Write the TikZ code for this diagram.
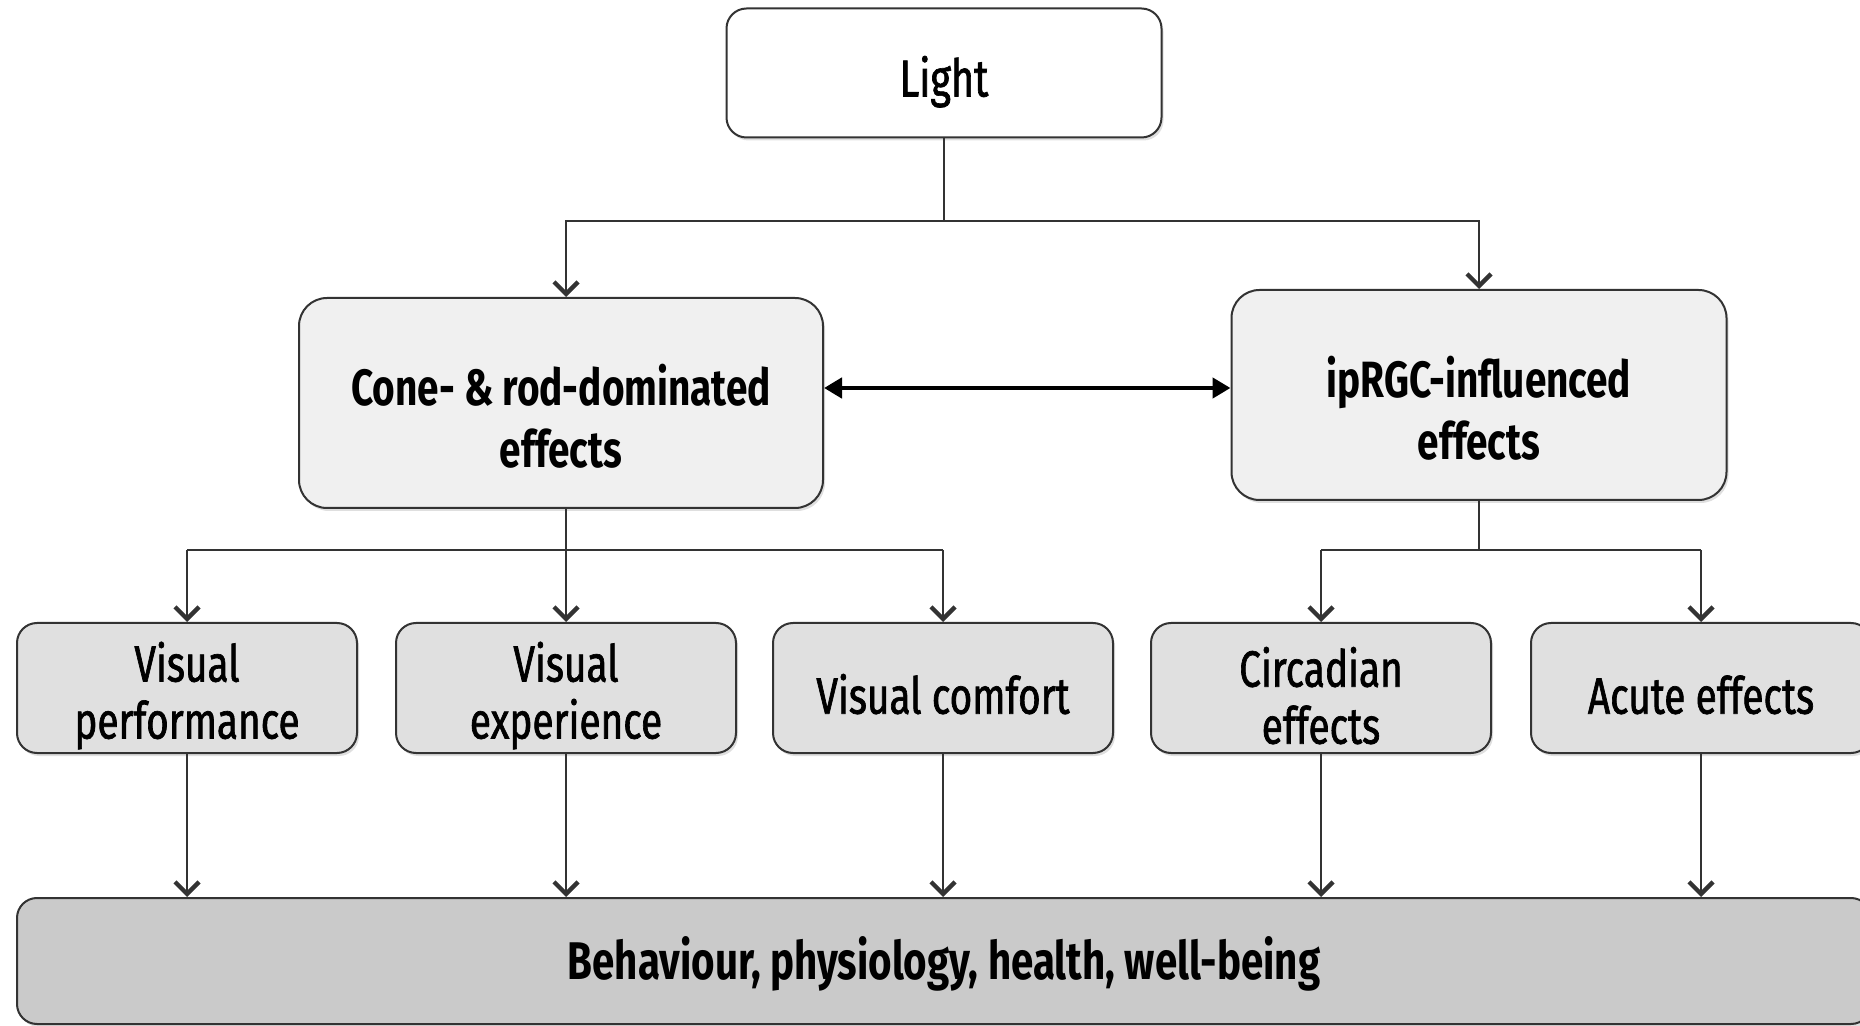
\documentclass[tikz,border=0pt]{standalone}
\usepackage{fontspec}
\setmainfont{Fira Sans}[FakeStretch=0.76]
\newfontfamily\medfont{Fira Sans}[FakeStretch=0.76, FakeBold=1.3]
\usetikzlibrary{positioning,calc,arrows.meta,shadows}
\definecolor{boxline}{HTML}{333333}
\definecolor{midfill}{HTML}{F0F0F0}
\definecolor{rowfill}{HTML}{E0E0E0}
\definecolor{basefill}{HTML}{CACACA}

\begin{document}
\begin{tikzpicture}[x=0.5pt,y=-0.5pt,
    box/.style={draw=boxline, line width=1pt, rounded corners=10pt, align=center,
        inner sep=0pt, drop shadow={shadow xshift=1pt, shadow yshift=-1.5pt, opacity=0.25}},
    topbox/.style={box, fill=white, minimum width=217.5pt, minimum height=64.5pt,
        text height=29pt, font=\fontsize{26}{28}\selectfont\medfont},
    midbox/.style={box, fill=midfill, minimum width=262pt, minimum height=105pt, rounded corners=14pt,
        text height=65pt, font=\fontsize{25.5}{31}\selectfont\bfseries},
    rowbox/.style={box, fill=rowfill, minimum width=170pt, minimum height=65pt,
        text height=56pt, font=\fontsize{25.5}{28.5}\selectfont\medfont},
    rowboxone/.style={rowbox, text height=26pt},
    basebox/.style={box, fill=basefill, minimum width=927pt, minimum height=63pt,
        text height=24pt, font=\fontsize{26.5}{28}\selectfont\bfseries},
    arr/.style={draw=boxline, line width=1.2pt, -{Straight Barb[length=6pt,width=12pt,line width=2.2pt]}},
    link/.style={draw=boxline, line width=1.2pt},
    dblarr/.style={draw=black, line width=2.4pt, {Triangle[length=9pt,width=10pt]}-{Triangle[length=9pt,width=10pt]}}]
    \useasboundingbox (0,0) rectangle (1860,1026);
    \clip (0,0) rectangle (1860,1026);

    % Source
    \node[topbox] (light) at (944,73) {Light};

    % Two pathways
    \node[midbox] (cone) at (561,403) {Cone- \& rod-dominated\\effects};
    \node[midbox, minimum width=247.5pt] (iprgc) at (1479,395) {ipRGC-influenced\\effects};

    % Effect boxes
    \node[rowbox] (vperf) at (187,688) {Visual\\performance};
    \node[rowbox] (vexp) at (566,688) {Visual\\experience};
    \node[rowboxone] (vcomf) at (943,688) {Visual comfort};
    \node[rowbox] (circ) at (1321,688) {Circadian\\effects};
    \node[rowboxone] (acute) at (1701,688) {Acute effects};

    % Outcome
    \node[basebox] (behav) at (944,961) {Behaviour, physiology, health, well-being};

    % Light to pathways
    \coordinate (lsplit) at (944,221);
    \draw[link] (light) -- (lsplit);
    \draw[arr] (lsplit) -| (vexp |- cone.north);
    \draw[arr] (lsplit) -| (iprgc.north);
    \draw[dblarr] ([yshift=7.5pt]cone.east) -- ([yshift=7.5pt]cone.east -| iprgc.west);

    % Pathways to effects
    \coordinate (csplit) at (566,550);
    \draw[link] (vexp |- cone.south) -- (csplit);
    \draw[link] (csplit -| vperf) -- (csplit -| vcomf);
    \foreach \n in {vperf,vexp,vcomf}
        \draw[arr] (csplit -| \n) -- (\n);
    \draw[link] (iprgc.south) -- (iprgc.south |- csplit);
    \draw[link] (csplit -| circ) -- (csplit -| acute);
    \foreach \n in {circ,acute}
        \draw[arr] (csplit -| \n) -- (\n);

    % Effects to outcome
    \foreach \n in {vperf,vexp,vcomf,circ,acute}
        \draw[arr] (\n) -- (\n |- behav.north);
\end{tikzpicture}
\end{document}
